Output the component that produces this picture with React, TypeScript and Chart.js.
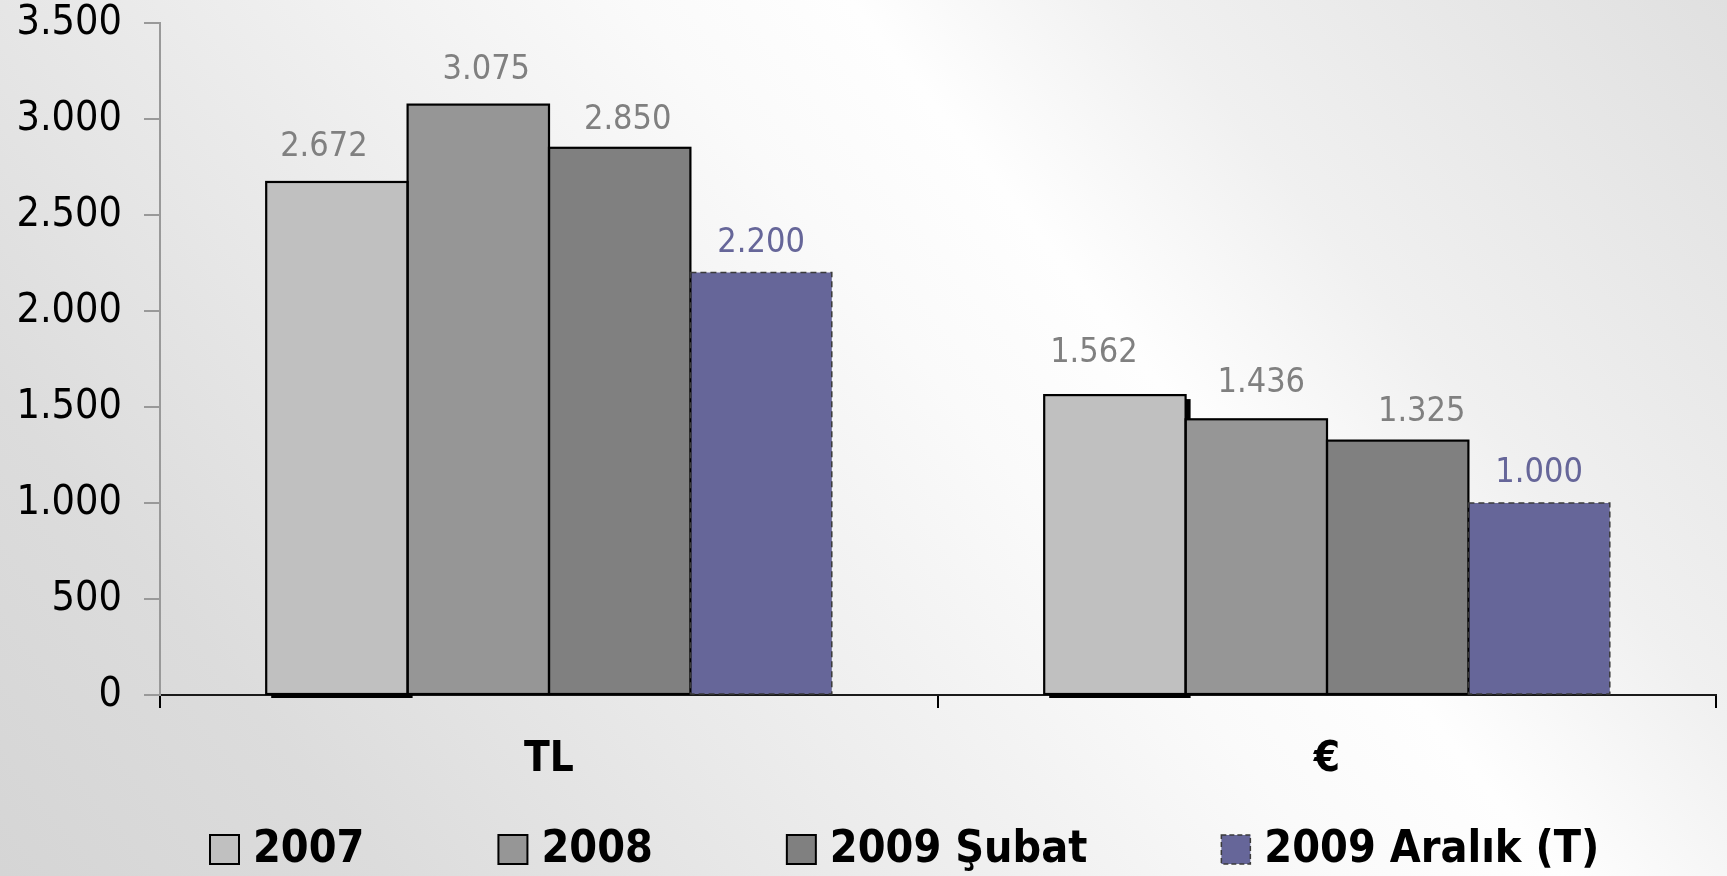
import React, { useEffect, useRef } from 'react';
import { Chart, registerables } from 'chart.js';

Chart.register(...registerables);

// ---- data ----
const categories = ['TL', '€'];
const seriesLabels = ['2007', '2008', '2009 Şubat', '2009 Aralık (T)'];
const values2007 = [2672, 1562];
const values2008 = [3075, 1436];
const valuesSubat2009 = [2850, 1325];
const valuesAralik2009 = [2200, 1000];
const yMin = 0;
const yMax = 3500;
const yStep = 500;

// ---- style ----
const seriesColors = ['#c0c0c0', '#969696', '#808080', '#666699'];
const labelColors = ['#808080', '#808080', '#808080', '#666699'];
// small per-label nudges (dx, gap above bar) as placed in the original
const labelDx = [[-13, -21], [8, 5], [8, 24], [0, 0]];
const labelGap = [[26, 33], [26, 27], [19, 20], [21, 21]];
const FONT = "'DejaVu Sans Condensed', 'DejaVu Sans', sans-serif";

const fmt = (v: number) => String(Math.round(v)).replace(/\B(?=(\d{3})+(?!\d))/g, '.');

const barDecor = {
  id: 'barDecor',
  beforeDatasetsDraw(chart: any) {
    const ctx = chart.ctx;
    ctx.save();
    const meta = chart.getDatasetMeta(0);
    ctx.fillStyle = '#000';
    meta.data.forEach((el: any) => {
      const { x, y, width, base } = el.getProps(['x', 'y', 'width', 'base'], true);
      ctx.fillRect(x - width / 2 + 5, y + 4, width, base - y);
    });
    ctx.restore();
  },
  afterDatasetsDraw(chart: any) {
    const ctx = chart.ctx;
    ctx.save();
    chart.data.datasets.forEach((ds: any, di: number) => {
      const meta = chart.getDatasetMeta(di);
      meta.data.forEach((el: any) => {
        const { x, y, width, base } = el.getProps(['x', 'y', 'width', 'base'], true);
        const left = x - width / 2;
        if (di === 3) {
          ctx.setLineDash([6, 4]);
          ctx.lineWidth = 1.5;
          ctx.strokeStyle = '#3a3a3a';
        } else {
          ctx.setLineDash([]);
          ctx.lineWidth = 2.2;
          ctx.strokeStyle = '#000';
        }
        ctx.strokeRect(left, y, width, base - y);
      });
    });
    ctx.setLineDash([]);
    ctx.font = `34px ${FONT}`;
    ctx.textAlign = 'center';
    ctx.textBaseline = 'alphabetic';
    chart.data.datasets.forEach((ds: any, di: number) => {
      const meta = chart.getDatasetMeta(di);
      meta.data.forEach((el: any, i: number) => {
        const { x, y } = el.getProps(['x', 'y'], true);
        ctx.fillStyle = labelColors[di];
        ctx.fillText(fmt(ds.data[i]), x + labelDx[di][i], y - labelGap[di][i]);
      });
    });
    ctx.restore();
  },
};

const customLegend = {
  id: 'customLegend',
  afterDraw(chart: any) {
    const ctx = chart.ctx;
    ctx.save();
    const cy = 849.5;
    const box = 29;
    let x = 210;
    ctx.font = `bold 44.5px ${FONT}`;
    ctx.textBaseline = 'middle';
    ctx.textAlign = 'left';
    chart.data.datasets.forEach((ds: any, di: number) => {
      ctx.fillStyle = ds.backgroundColor;
      ctx.fillRect(x, cy - box / 2, box, box);
      if (di === 3) {
        ctx.setLineDash([5, 3]);
        ctx.lineWidth = 1.5;
        ctx.strokeStyle = '#3a3a3a';
      } else {
        ctx.setLineDash([]);
        ctx.lineWidth = 2;
        ctx.strokeStyle = '#000';
      }
      ctx.strokeRect(x, cy - box / 2, box, box);
      ctx.setLineDash([]);
      ctx.fillStyle = '#000';
      const tx = x + box + 14;
      ctx.fillText(ds.label, tx, cy + 1);
      x = tx + ctx.measureText(ds.label).width + 134;
    });
    ctx.restore();
  },
};

export default function App() {
  const ref = useRef<HTMLCanvasElement | null>(null);
  useEffect(() => {
    if (!ref.current) return;
    const seriesValues = [values2007, values2008, valuesSubat2009, valuesAralik2009];
    const chart = new Chart(ref.current, {
      type: 'bar',
      data: {
        labels: categories,
        datasets: seriesLabels.map((label, i) => ({
          label,
          data: seriesValues[i],
          backgroundColor: seriesColors[i],
          borderWidth: 0,
          categoryPercentage: 0.727,
          barPercentage: 1,
        })),
      },
      options: {
        responsive: true,
        maintainAspectRatio: false,
        animation: false,
        layout: { padding: { left: 0, right: 11, top: 23, bottom: 91 } },
        plugins: { legend: { display: false }, tooltip: { enabled: false } },
        scales: {
          x: {
            grid: { offset: true, drawOnChartArea: false, tickLength: 13, color: '#000', lineWidth: 2 },
            border: { color: '#1a1a1a', width: 2 },
            ticks: { font: { family: FONT, size: 42, weight: 'bold' }, color: '#000', padding: 27 },
            afterFit: (s: any) => { s.height = 90; },
          },
          y: {
            min: yMin,
            max: yMax,
            ticks: {
              stepSize: yStep,
              callback: (v: any) => fmt(Number(v)),
              font: { family: FONT, size: 41, lineHeight: 0.02 },
              color: '#000',
              padding: 22,
            },
            grid: { drawOnChartArea: false, tickLength: 16, color: '#999', lineWidth: 2 },
            border: { color: '#999', width: 2 },
            afterFit: (s: any) => { s.width = 160; },
          },
        },
      } as any,
      plugins: [barDecor, customLegend],
    });
    return () => chart.destroy();
  }, []);
  return (
    <div
      style={{
        position: 'fixed',
        left: 0,
        top: 0,
        width: '100vw',
        height: '100vh',
        background:
          'linear-gradient(51deg, #d5d5d5 0%, #dcdcdc 16%, #e6e6e6 29%, #fafafa 55%, #fefefe 64%, #f0f0f0 76%, #e0e0e0 100%)',
      }}
    >
      <canvas ref={ref} />
    </div>
  );
}
